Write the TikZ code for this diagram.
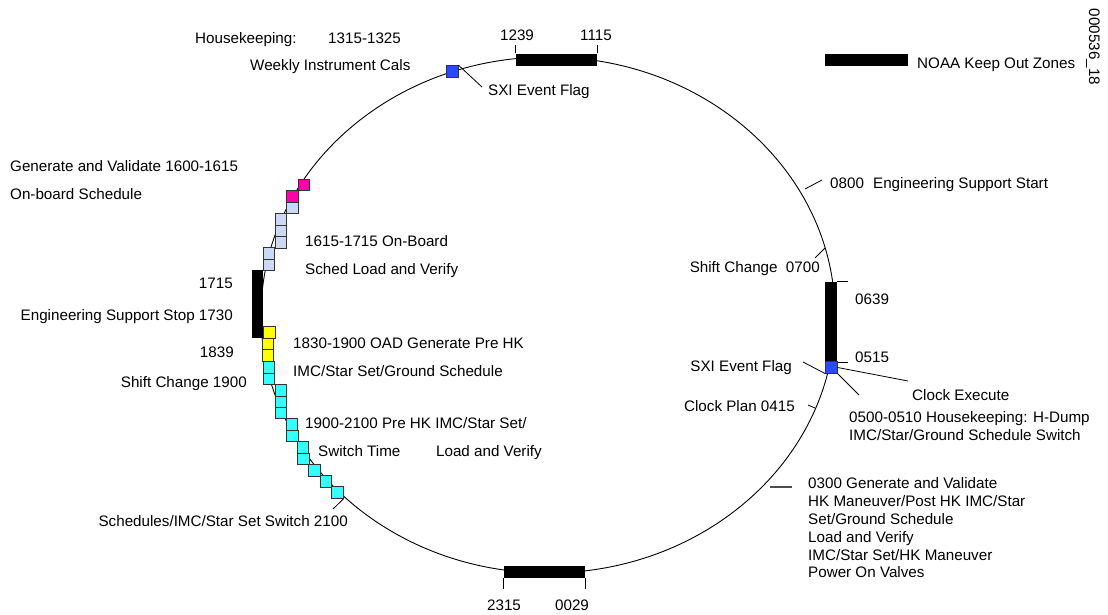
\documentclass[tikz,border=0pt]{standalone}
\usepackage{fontspec}
\setmainfont{Liberation Sans}
\definecolor{pinkc}{RGB}{255,0,170}
\definecolor{lav}{RGB}{204,217,245}
\definecolor{yel}{RGB}{255,255,0}
\definecolor{cyn}{RGB}{51,255,255}
\definecolor{blu}{RGB}{40,75,255}
\begin{document}
\begin{tikzpicture}[x=1pt,y=-1pt,
  font=\fontsize{15.2}{17.8}\selectfont,
  lbl/.style={anchor=base west, inner sep=0pt},
  lblr/.style={anchor=base east, inner sep=0pt},
  lblc/.style={anchor=base, inner sep=0pt},
  sq/.style={draw=black!80, line width=0.8pt, minimum size=11.5pt, inner sep=0pt},
  kbar/.style={fill=black, draw=none, inner sep=0pt},
  ln/.style={line width=0.8pt},
  ring/.style={line width=0.9pt}]
\useasboundingbox (0,0) rectangle (1108,614);
\fill[white] (0,0) rectangle (1108,614);

% the ring
\draw[ring] (548,315) ellipse [x radius=287pt, y radius=258pt];

% keep out zones
\node[kbar, minimum width=81pt, minimum height=12pt] (topbar) at (556.5,59.5) {};
\node[kbar, minimum width=81pt, minimum height=12pt] (botbar) at (544.5,572) {};
\node[kbar, minimum width=12pt, minimum height=80pt] (rbar) at (831,322) {};
\node[kbar, minimum width=11pt, minimum height=68pt] (lbar) at (257.5,304) {};
\node[kbar, minimum width=83pt, minimum height=12pt] (legbar) at (866.5,60) {};

\draw[ln] (topbar.north west) -- ++(0,-8);
\draw[ln] (topbar.north east) -- ++(0,-8);
\draw[ln] (botbar.south west) -- ++(0,11);
\draw[ln] (botbar.south east) -- ++(0,11);
\draw[ln] (rbar.north east) -- ++(11,0);
\draw[ln] (rbar.south east) -- ++(11,0);

% squares
\foreach \n/\x/\y/\c in {
  P1/304/185/pinkc, P2/292.5/196.5/pinkc,
  L1/292.5/208/lav, L2/281/219.5/lav, L3/281/231/lav, L4/281/242.5/lav,
  L5/269/253.5/lav, L6/269/265/lav,
  Y1/269.5/332.5/yel, Y2/268/344/yel, Y3/268/355.5/yel,
  C1/269/367.5/cyn, C2/269/379/cyn, C3/281/390.5/cyn, C4/281/402/cyn,
  C5/281/413/cyn, C6/292/424.5/cyn, C7/292.5/436/cyn, C8/303/447.5/cyn,
  C9/303.5/459/cyn, C10/314.5/470.5/cyn, C11/326/481.5/cyn, C12/337.5/492.5/cyn}
  \node[sq, fill=\c] (\n) at (\x,\y) {};

\node[sq, fill=blu] (bsqT) at (452.5,71.5) {};
\node[sq, fill=blu] (bsqR) at (831.5,367.5) {};

% coordinates for connector ends
\coordinate (cSxiT) at (482,87);
\coordinate (cSxiR) at (803,362);
\coordinate (cClk) at (908,381);
\coordinate (cHk) at (859,395);
\coordinate (c2100) at (333,509);
\coordinate (t800a) at (805,189);  \coordinate (t800b) at (822,180);
\coordinate (t700a) at (815,258);  \coordinate (t700b) at (825,248);
\coordinate (t415a) at (808,405);  \coordinate (t415b) at (815,408);
\coordinate (t300a) at (770,487);  \coordinate (t300b) at (792,487);

\draw[ln] (bsqT.north east) -- (cSxiT);
\draw[ln] (cSxiR) -- (bsqR.south west);
\draw[ln] (bsqR.east) -- (cClk);
\draw[ln] (bsqR.south east) -- (cHk);
\draw[ln] (C12.south east) -- (c2100);
\draw[ln] (t800a) -- (t800b);
\draw[ln] (t700a) -- (t700b);
\draw[ln] (t415a) -- (t415b);
\draw[line width=1.2pt, black!70] (t300a) -- (t300b);

% labels top
\node[lbl] (hk) at (195,43.5) {Housekeeping:};
\node[lbl] (hkt) at (328,43.5) {1315-1325};
\node[lbl] (wic) at (250,70.5) {Weekly Instrument Cals};
\node[lblc] (t1239) at (517,40.5) {1239};
\node[lblc] (t1115) at (596,40.5) {1115};
\node[lbl] (sxiT) at (488,95.5) {SXI Event Flag};
\node[lbl] (noaa) at (917,68.5) {NOAA Keep Out Zones};
\node[inner sep=0pt, rotate=-90] (fig) at (1093,47) {000536\_18};

% labels left
\node[lbl] (gv) at (10,171.5) {Generate and Validate 1600-1615};
\node[lbl] (obs) at (10,199.5) {On-board Schedule};
\node[lbl] (ob1) at (305,246.5) {1615-1715 On-Board};
\node[lbl] (ob2) at (305,274.5) {Sched Load and Verify};
\node[lblr] (t1715) at (233,288.5) {1715};
\node[lblr] (ess) at (233,320.5) {Engineering Support Stop 1730};
\node[lbl] (oad1) at (293,348.5) {1830-1900 OAD Generate Pre HK};
\node[lbl] (oad2) at (293,376.5) {IMC/Star Set/Ground Schedule};
\node[lblr] (t1839) at (234,357.5) {1839};
\node[lblr] (sc19) at (247,387.5) {Shift Change 1900};
\node[lbl] (ph1) at (305,428.5) {1900-2100 Pre HK IMC/Star Set/};
\node[lbl] (ph2) at (318,456.5) {Switch Time\hspace{2.35em}Load and Verify};
\node[lblr] (sw21) at (348,526.5) {Schedules/IMC/Star Set Switch 2100};

% labels right
\node[lbl] (ess8) at (830,188.5) {0800\hspace{0.6em}Engineering Support Start};
\node[lblr] (sc07) at (820,272.5) {Shift Change\hspace{0.55em}0700};
\node[lbl] (t0639) at (855,304.5) {0639};
\node[lbl] (t0515) at (855,362.5) {0515};
\node[lblr] (sxiR) at (792,371.5) {SXI Event Flag};
\node[lbl] (clk) at (912,400.5) {Clock Execute};
\node[lblr] (cp) at (795,411.5) {Clock Plan 0415};
\node[lbl] (hk1) at (849,422.5) {0500-0510 Housekeeping: H-Dump};
\node[lbl] (hk2) at (849,440.5) {IMC/Star/Ground Schedule Switch};
\node[lbl] (g1) at (808,488.5) {0300 Generate and Validate};
\node[lbl] (g2) at (808,506.5) {HK Maneuver/Post HK IMC/Star};
\node[lbl] (g3) at (808,524.5) {Set/Ground Schedule};
\node[lbl] (g4) at (808,542) {Load and Verify};
\node[lbl] (g5) at (808,560) {IMC/Star Set/HK Maneuver};
\node[lbl] (g6) at (808,577.5) {Power On Valves};

% labels bottom
\node[lblc] (t2315) at (504,610.5) {2315};
\node[lblc] (t0029) at (572,610.5) {0029};
\end{tikzpicture}
\end{document}
